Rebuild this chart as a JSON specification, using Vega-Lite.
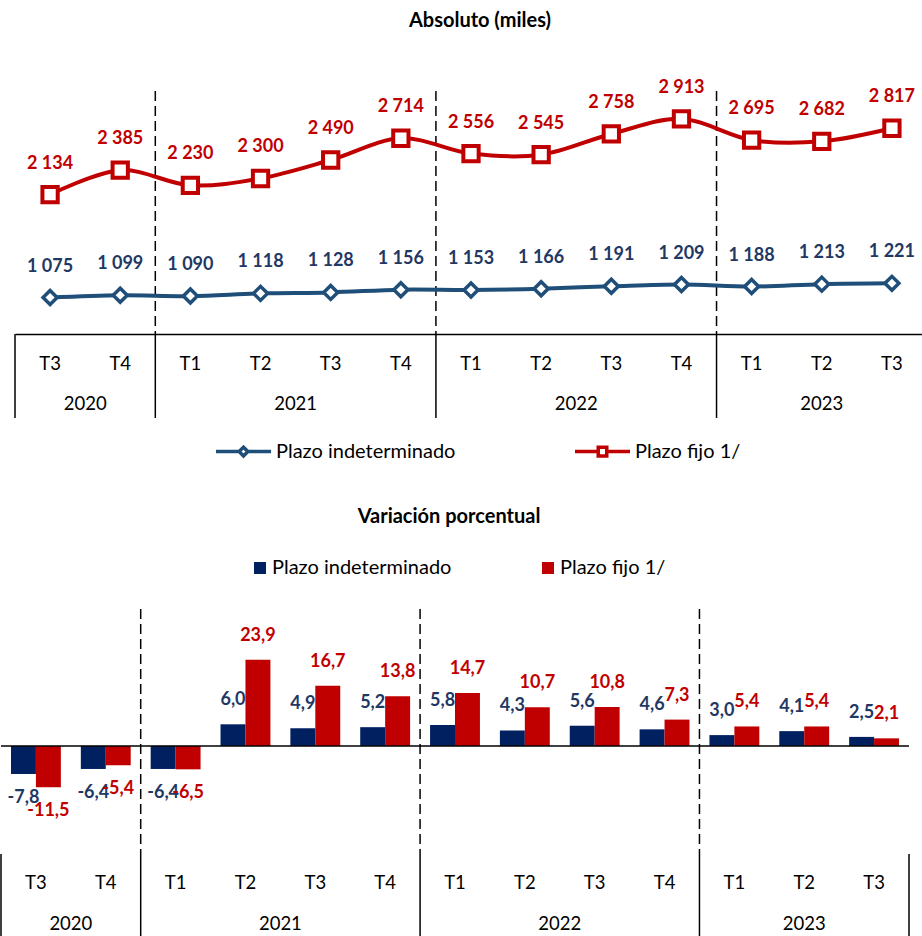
{
  "$schema": "https://vega.github.io/schema/vega-lite/v6.json",
  "padding": {"top": 10, "left": 0, "right": 0, "bottom": 0},
  "autosize": {"type": "pad"},
  "bounds": "flush",
  "spacing": 0,
  "config": {
    "font": "Lato",
    "view": {"stroke": null},
    "locale": {
      "number": {"decimal": ",", "thousands": " ", "grouping": [3], "currency": ["", ""], "minus": "-"}
    }
  },
  "datasets": {
    "abs": [
      {"periodo": "2020-T3", "serie": "Plazo indeterminado", "valor": 1075},
      {"periodo": "2020-T4", "serie": "Plazo indeterminado", "valor": 1099},
      {"periodo": "2021-T1", "serie": "Plazo indeterminado", "valor": 1090},
      {"periodo": "2021-T2", "serie": "Plazo indeterminado", "valor": 1118},
      {"periodo": "2021-T3", "serie": "Plazo indeterminado", "valor": 1128},
      {"periodo": "2021-T4", "serie": "Plazo indeterminado", "valor": 1156},
      {"periodo": "2022-T1", "serie": "Plazo indeterminado", "valor": 1153},
      {"periodo": "2022-T2", "serie": "Plazo indeterminado", "valor": 1166},
      {"periodo": "2022-T3", "serie": "Plazo indeterminado", "valor": 1191},
      {"periodo": "2022-T4", "serie": "Plazo indeterminado", "valor": 1209},
      {"periodo": "2023-T1", "serie": "Plazo indeterminado", "valor": 1188},
      {"periodo": "2023-T2", "serie": "Plazo indeterminado", "valor": 1213},
      {"periodo": "2023-T3", "serie": "Plazo indeterminado", "valor": 1221},
      {"periodo": "2020-T3", "serie": "Plazo fijo 1/", "valor": 2134},
      {"periodo": "2020-T4", "serie": "Plazo fijo 1/", "valor": 2385},
      {"periodo": "2021-T1", "serie": "Plazo fijo 1/", "valor": 2230},
      {"periodo": "2021-T2", "serie": "Plazo fijo 1/", "valor": 2300},
      {"periodo": "2021-T3", "serie": "Plazo fijo 1/", "valor": 2490},
      {"periodo": "2021-T4", "serie": "Plazo fijo 1/", "valor": 2714},
      {"periodo": "2022-T1", "serie": "Plazo fijo 1/", "valor": 2556},
      {"periodo": "2022-T2", "serie": "Plazo fijo 1/", "valor": 2545},
      {"periodo": "2022-T3", "serie": "Plazo fijo 1/", "valor": 2758},
      {"periodo": "2022-T4", "serie": "Plazo fijo 1/", "valor": 2913},
      {"periodo": "2023-T1", "serie": "Plazo fijo 1/", "valor": 2695},
      {"periodo": "2023-T2", "serie": "Plazo fijo 1/", "valor": 2682},
      {"periodo": "2023-T3", "serie": "Plazo fijo 1/", "valor": 2817}
    ],
    "var": [
      {"periodo": "2020-T3", "serie": "Plazo indeterminado", "valor": -7.8},
      {"periodo": "2020-T4", "serie": "Plazo indeterminado", "valor": -6.4},
      {"periodo": "2021-T1", "serie": "Plazo indeterminado", "valor": -6.4},
      {"periodo": "2021-T2", "serie": "Plazo indeterminado", "valor": 6.0},
      {"periodo": "2021-T3", "serie": "Plazo indeterminado", "valor": 4.9},
      {"periodo": "2021-T4", "serie": "Plazo indeterminado", "valor": 5.2},
      {"periodo": "2022-T1", "serie": "Plazo indeterminado", "valor": 5.8},
      {"periodo": "2022-T2", "serie": "Plazo indeterminado", "valor": 4.3},
      {"periodo": "2022-T3", "serie": "Plazo indeterminado", "valor": 5.6},
      {"periodo": "2022-T4", "serie": "Plazo indeterminado", "valor": 4.6},
      {"periodo": "2023-T1", "serie": "Plazo indeterminado", "valor": 3.0},
      {"periodo": "2023-T2", "serie": "Plazo indeterminado", "valor": 4.1},
      {"periodo": "2023-T3", "serie": "Plazo indeterminado", "valor": 2.5},
      {"periodo": "2020-T3", "serie": "Plazo fijo 1/", "valor": -11.5},
      {"periodo": "2020-T4", "serie": "Plazo fijo 1/", "valor": -5.4},
      {"periodo": "2021-T1", "serie": "Plazo fijo 1/", "valor": -6.5},
      {"periodo": "2021-T2", "serie": "Plazo fijo 1/", "valor": 23.9},
      {"periodo": "2021-T3", "serie": "Plazo fijo 1/", "valor": 16.7},
      {"periodo": "2021-T4", "serie": "Plazo fijo 1/", "valor": 13.8},
      {"periodo": "2022-T1", "serie": "Plazo fijo 1/", "valor": 14.7},
      {"periodo": "2022-T2", "serie": "Plazo fijo 1/", "valor": 10.7},
      {"periodo": "2022-T3", "serie": "Plazo fijo 1/", "valor": 10.8},
      {"periodo": "2022-T4", "serie": "Plazo fijo 1/", "valor": 7.3},
      {"periodo": "2023-T1", "serie": "Plazo fijo 1/", "valor": 5.4},
      {"periodo": "2023-T2", "serie": "Plazo fijo 1/", "valor": 5.4},
      {"periodo": "2023-T3", "serie": "Plazo fijo 1/", "valor": 2.1}
    ],
    "per": [
      {"periodo": "2020-T3", "trim": "T3"},
      {"periodo": "2020-T4", "trim": "T4"},
      {"periodo": "2021-T1", "trim": "T1"},
      {"periodo": "2021-T2", "trim": "T2"},
      {"periodo": "2021-T3", "trim": "T3"},
      {"periodo": "2021-T4", "trim": "T4"},
      {"periodo": "2022-T1", "trim": "T1"},
      {"periodo": "2022-T2", "trim": "T2"},
      {"periodo": "2022-T3", "trim": "T3"},
      {"periodo": "2022-T4", "trim": "T4"},
      {"periodo": "2023-T1", "trim": "T1"},
      {"periodo": "2023-T2", "trim": "T2"},
      {"periodo": "2023-T3", "trim": "T3"}
    ],
    "anios": [
      {"anio": "2020", "periodo": "2020-T3", "centro": "2020-T3", "fin": "2020-T4", "par": true},
      {"anio": "2021", "periodo": "2021-T1", "centro": "2021-T2", "fin": "2021-T4", "par": true},
      {"anio": "2022", "periodo": "2022-T1", "centro": "2022-T2", "fin": "2022-T4", "par": true},
      {"anio": "2023", "periodo": "2023-T1", "centro": "2023-T2", "fin": "2023-T3", "par": false}
    ]
  },
  "resolve": {"scale": {"x": "independent", "y": "independent", "color": "independent", "fill": "independent", "shape": "independent"}},
  "vconcat": [
    {
      "width": 922,
      "height": 243,
      "title": {"text": "Absoluto (miles)", "fontSize": 20, "fontWeight": "bold", "color": "#000000", "offset": 38, "baseline": "middle", "dx": 18, "frame": "group", "anchor": "middle"},
      "encoding": {
        "x": {
          "field": "periodo",
          "type": "nominal",
          "scale": {
            "domain": ["2020-T3", "2020-T4", "2021-T1", "2021-T2", "2021-T3", "2021-T4", "2022-T1", "2022-T2", "2022-T3", "2022-T4", "2023-T1", "2023-T2", "2023-T3"],
            "range": [14, 926],
            "paddingInner": 0,
            "paddingOuter": 0
          },
          "axis": {"labels": false, "ticks": false, "title": null, "grid": false, "domainColor": "#000000", "domainWidth": 1.5}
        }
      },
      "layer": [
        {
          "data": {"name": "anios"},
          "transform": [{"filter": "datum.anio != '2020'"}],
          "mark": {"type": "rule", "strokeDash": [10, 5], "strokeWidth": 1.5, "color": "#000000"},
          "encoding": {"x": {"field": "periodo", "type": "nominal", "bandPosition": 0}}
        },
        {
          "data": {"name": "abs"},
          "mark": {"type": "line", "interpolate": "cardinal", "tension": 0, "strokeWidth": 4},
          "encoding": {
            "y": {"field": "valor", "type": "quantitative", "scale": {"domain": [700, 3200], "nice": false, "zero": false}, "axis": null},
            "color": {"field": "serie", "type": "nominal", "scale": {"domain": ["Plazo indeterminado", "Plazo fijo 1/"], "range": ["#1F4E79", "#C00000"]}, "legend": null}
          }
        },
        {
          "data": {"name": "abs"},
          "transform": [{"filter": "datum.serie == 'Plazo indeterminado'"}],
          "mark": {"type": "point", "shape": "diamond", "filled": false, "fill": "#ffffff", "size": 196, "strokeWidth": 3.5, "opacity": 1},
          "encoding": {
            "y": {"field": "valor", "type": "quantitative"},
            "color": {"field": "serie", "type": "nominal", "legend": null}
          }
        },
        {
          "data": {"name": "abs"},
          "transform": [{"filter": "datum.serie == 'Plazo fijo 1/'"}],
          "mark": {"type": "point", "shape": "square", "filled": false, "fill": "#ffffff", "size": 234, "strokeWidth": 4, "opacity": 1},
          "encoding": {
            "y": {"field": "valor", "type": "quantitative"},
            "color": {"field": "serie", "type": "nominal", "legend": null}
          }
        },
        {
          "data": {"name": "abs"},
          "mark": {"type": "text", "dy": -31, "fontSize": 18, "fontWeight": "bold", "baseline": "middle"},
          "encoding": {
            "y": {"field": "valor", "type": "quantitative"},
            "text": {"field": "valor", "type": "quantitative", "format": ",d"},
            "fill": {"field": "serie", "type": "nominal", "scale": {"domain": ["Plazo indeterminado", "Plazo fijo 1/"], "range": ["#1F3864", "#C00000"]}, "legend": null}
          }
        }
      ]
    },
    {
      "width": 922,
      "height": 84,
      "encoding": {
        "x": {
          "field": "periodo",
          "type": "nominal",
          "scale": {
            "domain": ["2020-T3", "2020-T4", "2021-T1", "2021-T2", "2021-T3", "2021-T4", "2022-T1", "2022-T2", "2022-T3", "2022-T4", "2023-T1", "2023-T2", "2023-T3"],
            "range": [14, 926],
            "paddingInner": 0,
            "paddingOuter": 0
          },
          "axis": null
        }
      },
      "layer": [
        {
          "data": {"name": "anios"},
          "mark": {"type": "rule", "strokeWidth": 1.5, "color": "#000000"},
          "encoding": {"x": {"field": "periodo", "type": "nominal", "bandPosition": 0}}
        },
        {
          "data": {"name": "per"},
          "mark": {"type": "text", "fontSize": 18.5, "color": "#000000", "dy": 9},
          "encoding": {
            "y": {"datum": "trimestre", "type": "nominal", "scale": {"type": "band", "domain": ["trimestre", "anio"], "paddingInner": 0, "paddingOuter": 0}, "axis": null},
            "text": {"field": "trim", "type": "nominal"}
          }
        },
        {
          "data": {"name": "anios"},
          "transform": [{"filter": "datum.par"}],
          "mark": {"type": "text", "fontSize": 18.5, "color": "#000000", "dy": 7},
          "encoding": {
            "x": {"field": "centro", "type": "nominal", "bandPosition": 1},
            "y": {"datum": "anio", "type": "nominal"},
            "text": {"field": "anio", "type": "nominal"}
          }
        },
        {
          "data": {"name": "anios"},
          "transform": [{"filter": "!datum.par"}],
          "mark": {"type": "text", "fontSize": 18.5, "color": "#000000", "dy": 7},
          "encoding": {
            "x": {"field": "centro", "type": "nominal", "bandPosition": 0.5},
            "y": {"datum": "anio", "type": "nominal"},
            "text": {"field": "anio", "type": "nominal"}
          }
        }
      ]
    },
    {
      "width": 922,
      "height": 191,
      "data": {"name": "abs"},
      "transform": [{"filter": "false"}],
      "mark": {"type": "point", "filled": false, "opacity": 1, "strokeWidth": 3.5},
      "encoding": {
        "color": {
          "field": "serie", "type": "nominal",
          "scale": {"domain": ["Plazo indeterminado", "Plazo fijo 1/"], "range": ["#1F4E79", "#C00000"]},
          "legend": {"orient": "none", "legendX": 213, "legendY": 4, "direction": "horizontal", "title": null, "symbolSize": 3025, "symbolStrokeWidth": 3.5, "labelFontSize": 20, "labelColor": "#000000", "labelOffset": 3, "columnPadding": 112, "labelLimit": 400}
        },
        "shape": {
          "field": "serie", "type": "nominal",
          "scale": {
            "domain": ["Plazo indeterminado", "Plazo fijo 1/"],
            "range": ["M-1,0H-0.16M0.16,0H1M0,-0.16L0.16,0L0,0.16L-0.16,0Z", "M-1,0H-0.155M0.155,0H1M-0.155,-0.155H0.155V0.155H-0.155Z"]
          },
          "legend": {"orient": "none", "legendX": 213, "legendY": 4, "direction": "horizontal", "title": null, "symbolSize": 3025, "symbolStrokeWidth": 3.5, "labelFontSize": 20, "labelColor": "#000000", "labelOffset": 3, "columnPadding": 112, "labelLimit": 400}
        }
      }
    },
    {
      "width": 908,
      "height": 245,
      "title": {"text": "Variación porcentual", "fontSize": 20, "fontWeight": "bold", "color": "#000000", "offset": 21, "baseline": "middle", "dx": -6, "frame": "group", "anchor": "middle"},
      "encoding": {
        "x": {
          "field": "periodo",
          "type": "nominal",
          "scale": {
            "domain": ["2020-T3", "2020-T4", "2021-T1", "2021-T2", "2021-T3", "2021-T4", "2022-T1", "2022-T2", "2022-T3", "2022-T4", "2023-T1", "2023-T2", "2023-T3"],
            "paddingInner": 0,
            "paddingOuter": 0
          },
          "axis": null
        }
      },
      "layer": [
        {
          "data": {"name": "anios"},
          "transform": [{"filter": "datum.anio != '2020'"}],
          "mark": {"type": "rule", "strokeDash": [10, 5], "strokeWidth": 1.5, "color": "#000000"},
          "encoding": {"x": {"field": "periodo", "type": "nominal", "bandPosition": 0}}
        },
        {
          "data": {"name": "var"},
          "mark": {"type": "bar"},
          "encoding": {
            "xOffset": {"field": "serie", "type": "nominal", "scale": {"domain": ["Plazo indeterminado", "Plazo fijo 1/"], "paddingInner": 0, "paddingOuter": 0.4}},
            "y": {"field": "valor", "type": "quantitative", "scale": {"domain": [-30, 38], "nice": false, "zero": false}, "axis": null},
            "color": {
              "field": "serie", "type": "nominal",
              "scale": {"domain": ["Plazo indeterminado", "Plazo fijo 1/"], "range": ["#002060", "#C00000"]},
              "legend": {"orient": "none", "legendX": 249, "legendY": -51, "direction": "horizontal", "title": null, "symbolType": "square", "symbolSize": 144, "labelFontSize": 20, "labelColor": "#000000", "labelOffset": 2, "columnPadding": 86, "labelLimit": 400}
            }
          }
        },
        {
          "data": {"values": [{"cero": 0}]},
          "mark": {"type": "rule", "strokeWidth": 1.5, "color": "#000000"},
          "encoding": {"y": {"field": "cero", "type": "quantitative"}, "x": null}
        },
        {
          "data": {"name": "var"},
          "transform": [{"filter": "datum.valor >= 0"}],
          "mark": {"type": "text", "dy": -24, "fontSize": 18, "fontWeight": "bold", "baseline": "middle"},
          "encoding": {
            "xOffset": {"field": "serie", "type": "nominal"},
            "y": {"field": "valor", "type": "quantitative"},
            "text": {"field": "valor", "type": "quantitative", "format": ".1f"},
            "fill": {"field": "serie", "type": "nominal", "scale": {"domain": ["Plazo indeterminado", "Plazo fijo 1/"], "range": ["#1F3864", "#C00000"]}, "legend": null}
          }
        },
        {
          "data": {"name": "var"},
          "transform": [{"filter": "datum.valor < 0"}],
          "mark": {"type": "text", "dy": 24, "fontSize": 18, "fontWeight": "bold", "baseline": "middle"},
          "encoding": {
            "xOffset": {"field": "serie", "type": "nominal"},
            "y": {"field": "valor", "type": "quantitative"},
            "text": {"field": "valor", "type": "quantitative", "format": ".1f"},
            "fill": {"field": "serie", "type": "nominal", "legend": null}
          }
        }
      ]
    },
    {
      "width": 908,
      "height": 84,
      "encoding": {
        "x": {
          "field": "periodo",
          "type": "nominal",
          "scale": {
            "domain": ["2020-T3", "2020-T4", "2021-T1", "2021-T2", "2021-T3", "2021-T4", "2022-T1", "2022-T2", "2022-T3", "2022-T4", "2023-T1", "2023-T2", "2023-T3"],
            "paddingInner": 0,
            "paddingOuter": 0
          },
          "axis": null
        }
      },
      "layer": [
        {
          "data": {"name": "anios"},
          "mark": {"type": "rule", "strokeWidth": 1.5, "color": "#000000"},
          "encoding": {"x": {"field": "periodo", "type": "nominal", "bandPosition": 0}}
        },
        {
          "data": {"name": "anios"},
          "transform": [{"filter": "datum.anio == '2023'"}],
          "mark": {"type": "rule", "strokeWidth": 1.5, "color": "#000000"},
          "encoding": {"x": {"field": "fin", "type": "nominal", "bandPosition": 1}}
        },
        {
          "data": {"name": "per"},
          "mark": {"type": "text", "fontSize": 18.5, "color": "#000000", "dy": 8},
          "encoding": {
            "y": {"datum": "trimestre", "type": "nominal", "scale": {"type": "band", "domain": ["trimestre", "anio"], "paddingInner": 0, "paddingOuter": 0}, "axis": null},
            "text": {"field": "trim", "type": "nominal"}
          }
        },
        {
          "data": {"name": "anios"},
          "transform": [{"filter": "datum.par"}],
          "mark": {"type": "text", "fontSize": 18.5, "color": "#000000", "dy": 7},
          "encoding": {
            "x": {"field": "centro", "type": "nominal", "bandPosition": 1},
            "y": {"datum": "anio", "type": "nominal"},
            "text": {"field": "anio", "type": "nominal"}
          }
        },
        {
          "data": {"name": "anios"},
          "transform": [{"filter": "!datum.par"}],
          "mark": {"type": "text", "fontSize": 18.5, "color": "#000000", "dy": 7},
          "encoding": {
            "x": {"field": "centro", "type": "nominal", "bandPosition": 0.5},
            "y": {"datum": "anio", "type": "nominal"},
            "text": {"field": "anio", "type": "nominal"}
          }
        }
      ]
    }
  ]
}
